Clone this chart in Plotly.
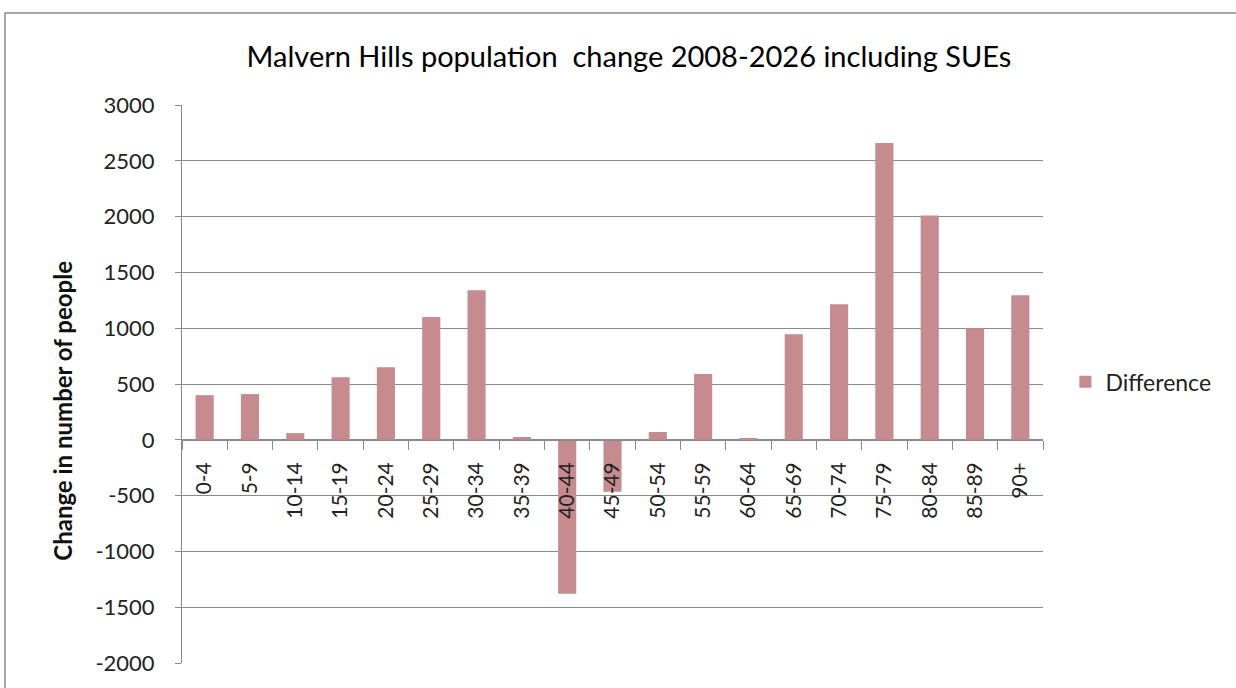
import plotly.graph_objects as go

# ---- data ----
age_groups = ["0-4", "5-9", "10-14", "15-19", "20-24", "25-29", "30-34", "35-39",
              "40-44", "45-49", "50-54", "55-59", "60-64", "65-69", "70-74",
              "75-79", "80-84", "85-89", "90+"]
difference = [400, 410, 60, 560, 650, 1100, 1340, 25,
              -1380, -465, 70, 590, 15, 945, 1215,
              2660, 2010, 1000, 1295]
y_tick_values = [3000, 2500, 2000, 1500, 1000, 500, 0, -500, -1000, -1500, -2000]
y_tick_labels = ["3000", "2500", "2000", "1500", "1000", "500", "0",
                 "-500", "-1000", "-1500", "-2000"]
y_min, y_max = -2000, 3000

FONT = "Lato"
GRID = "#8a8a8a"

fig = go.Figure()
fig.add_trace(go.Bar(
    x=age_groups, y=difference, name="Difference",
    width=0.4,
    marker=dict(color="#c68b8e", line=dict(width=0)),
    showlegend=True,
))

zero_pos = (0 - y_min) / (y_max - y_min)

fig.update_layout(
    width=1236, height=688,
    margin=dict(l=182, r=193, t=105, b=19),
    paper_bgcolor="white", plot_bgcolor="white",
    font=dict(family=FONT, color="#222"),
    title=dict(text="Malvern Hills population  change 2008-2026 including SUEs",
               x=629 / 1236, xref="container", xanchor="center",
               y=1 - 57 / 688, yref="container", yanchor="middle",
               font=dict(family=FONT, size=29, color="#000")),
    showlegend=True,
    legend=dict(x=1.026, xanchor="left", y=0.504, yanchor="middle",
                font=dict(family=FONT, size=23, color="#222"),
                bgcolor="rgba(0,0,0,0)"),
    bargap=0.6,
    xaxis=dict(
        type="category", categoryarray=age_groups, categoryorder="array",
        range=[-0.5, len(age_groups) - 0.5],
        anchor="free", position=zero_pos,
        showline=True, linecolor=GRID, linewidth=1,
        ticks="outside", tickson="boundaries", ticklen=9, tickcolor=GRID,
        tickangle=-90, ticklabelstandoff=13,
        tickfont=dict(family=FONT, size=21, color="#222"),
        showgrid=False, zeroline=False,
    ),
    yaxis=dict(
        range=[y_min, y_max], tickvals=y_tick_values, ticktext=y_tick_labels,
        showgrid=True, gridcolor=GRID, gridwidth=1,
        zeroline=False,
        showline=True, linecolor=GRID, linewidth=1,
        ticks="outside", ticklen=6, tickcolor=GRID,
        ticklabelstandoff=16,
        tickfont=dict(family=FONT, size=22, color="#222"),
    ),
    annotations=[dict(
        text="<b>Change in number of people</b>", textangle=-90,
        xref="paper", yref="paper", x=(63 - 182) / 861, y=(669 - 414) / 564,
        xanchor="center", yanchor="middle", showarrow=False,
        font=dict(family=FONT, size=24, color="#111"),
    )],
    shapes=[dict(type="rect", xref="paper", yref="paper",
                 x0=(5 - 182) / 861, x1=(1250 - 182) / 861,
                 y0=-0.2, y1=(669 - 12) / 564,
                 line=dict(color="#8a8a8a", width=1.5), layer="below")],
)

fig.write_html("out.html")
